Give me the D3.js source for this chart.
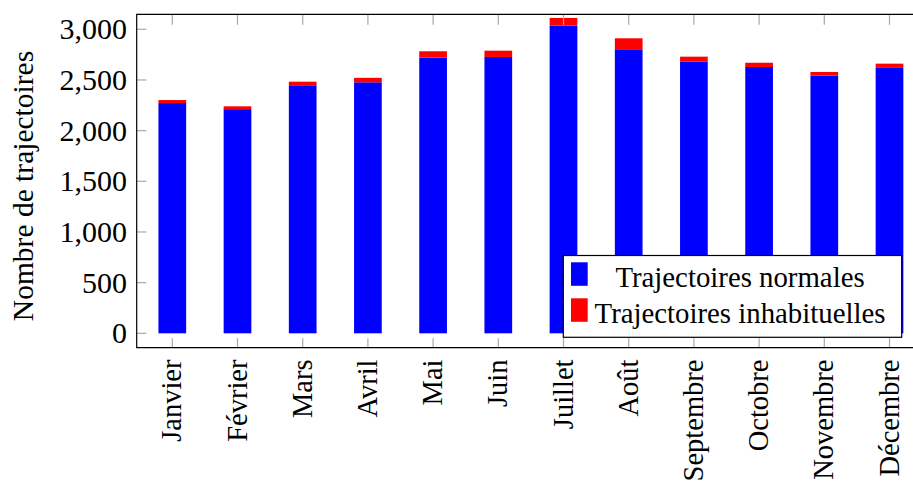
<!DOCTYPE html>
<html>
<head>
<meta charset="utf-8">
<script src="https://cdn.jsdelivr.net/npm/d3@7"></script>
<style>
  html, body { margin: 0; padding: 0; background: #fff; }
  svg { display: block; }
  text { font-family: "Liberation Serif", "Times New Roman", serif; fill: #000; }
</style>
</head>
<body>
<svg id="chart" width="913" height="481"></svg>
<script>
const months = ["Janvier", "Février", "Mars", "Avril", "Mai", "Juin", "Juillet", "Août", "Septembre", "Octobre", "Novembre", "Décembre"];
const normales = [2272, 2212, 2441, 2477, 2720, 2727, 3036, 2803, 2680, 2628, 2542, 2625];
const inhabituelles = [30, 28, 42, 44, 63, 62, 76, 108, 50, 42, 37, 36];
const yTicks = [0, 500, 1000, 1500, 2000, 2500, 3000];
const seriesNames = ["Trajectoires normales", "Trajectoires inhabituelles"];
const seriesColors = ["#0000ff", "#ff0000"];
const yLabel = "Nombre de trajectoires";

(function () {
const svg = d3.select("#chart");
const pL = 136.7, pT = 14.3, pB = 347.7, pR = 925;

const x = d3.scalePoint().domain(months).range([172.3, 889.5]);
const y = d3.scaleLinear().domain([-142, 3148]).range([pB, pT]);
const barW = 27.7;

const fmt = d3.format(",");

// bars
const stackData = months.map((m, i) => ({ m, n: normales[i], u: inhabituelles[i] }));
const stack = d3.stack().keys(["n", "u"])(stackData);
svg.append("g").selectAll("g").data(stack).join("g")
  .attr("fill", (d, i) => seriesColors[i])
  .selectAll("rect").data(d => d).join("rect")
  .attr("x", d => x(d.data.m) - barW / 2)
  .attr("width", barW)
  .attr("y", d => y(d[1]))
  .attr("height", d => y(d[0]) - y(d[1]));

// ticks (gray)
const tg = svg.append("g").attr("stroke", "#a8a8a8").attr("stroke-width", 1.2);
tg.selectAll("line.xb").data(months).join("line")
  .attr("x1", d => x(d)).attr("x2", d => x(d)).attr("y1", pB).attr("y2", pB - 9.5);
tg.selectAll("line.xt").data(months).join("line")
  .attr("x1", d => x(d)).attr("x2", d => x(d)).attr("y1", pT).attr("y2", pT + 10.5);
tg.selectAll("line.yl").data(yTicks).join("line")
  .attr("x1", pL).attr("x2", pL + 9.5).attr("y1", d => y(d)).attr("y2", d => y(d));

// frame
svg.append("path")
  .attr("d", `M${pR},${pT}H${pL}V${pB}H${pR}`)
  .attr("fill", "none").attr("stroke", "#000").attr("stroke-width", 1.2);

// y tick labels
svg.append("g").selectAll("text").data(yTicks).join("text")
  .attr("x", 127)
  .attr("y", d => y(d) + 10)
  .attr("text-anchor", "end")
  .style("font-size", "30px")
  .text(d => fmt(d));

// x tick labels (rotated)
svg.append("g").selectAll("text").data(months).join("text")
  .attr("transform", d => `translate(${x(d) + 9},359.5) rotate(-90)`)
  .attr("text-anchor", "end")
  .style("font-size", "28.5px")
  .text(d => d);

// y axis label
svg.append("text")
  .attr("transform", `translate(33,186) rotate(-90)`)
  .attr("text-anchor", "middle")
  .style("font-size", "29.5px")
  .text(yLabel);

// legend
const lg = svg.append("g");
lg.append("rect").attr("x", 563.3).attr("y", 255.5).attr("width", 338.4).attr("height", 81.8)
  .attr("fill", "#fff").attr("stroke", "#000").attr("stroke-width", 1.2);
const rowY = [286.5, 322.5];
seriesNames.forEach((name, i) => {
  lg.append("rect").attr("x", 571).attr("y", rowY[i] - 24.2).attr("width", 16.7).attr("height", 23.5)
    .attr("fill", seriesColors[i]);
  lg.append("text")
    .attr("x", 740)
    .attr("y", rowY[i])
    .attr("text-anchor", "middle")
    .style("font-size", "28.8px")
    .text(name);
});
})();
</script>
</body>
</html>
